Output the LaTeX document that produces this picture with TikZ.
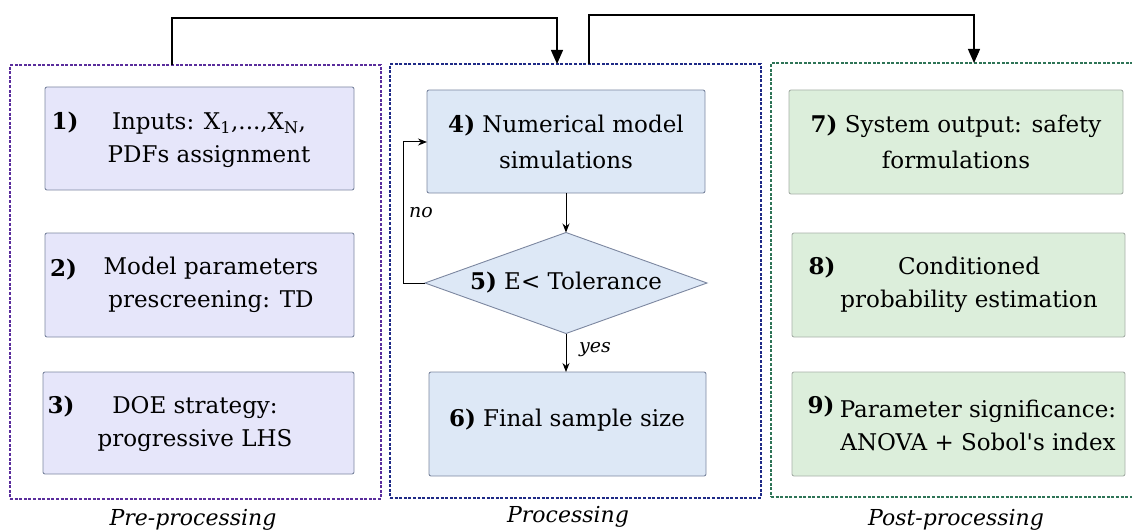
\documentclass[tikz,border=0pt]{standalone}
\usepackage{fontspec}
\setmainfont{DejaVu Serif}
\usetikzlibrary{shapes.geometric,arrows.meta,calc}

\definecolor{preline}{HTML}{5A2D9C}
\definecolor{procline}{HTML}{1E2A86}
\definecolor{postline}{HTML}{2E7457}
\definecolor{prefill}{HTML}{E6E6FA}
\definecolor{procfill}{HTML}{DDE8F6}
\definecolor{postfill}{HTML}{DCEEDB}
\definecolor{boxedge}{HTML}{7C87A0}
\definecolor{greenedge}{HTML}{A7B0A8}

\begin{document}
\begin{tikzpicture}[x=1pt,y=-1pt,
  every node/.style={inner sep=0pt,outer sep=0pt},
  txt/.style={font=\fontsize{23}{33}\selectfont,align=center},
  num/.style={font=\fontsize{23}{33}\selectfont\bfseries},
  tag/.style={font=\fontsize{22}{25}\selectfont\itshape},
  small/.style={font=\fontsize{19}{22}\selectfont\itshape},
  stage/.style={draw,line width=1.5pt,dash pattern=on 3pt off 1.6pt,rectangle},
  stepbox/.style={draw=boxedge,line width=0.9pt,rounded corners=2pt,rectangle},
  bigarrow/.style={draw,line width=1.3pt,-{Triangle[length=14pt,width=12pt]}},
  flow/.style={draw,line width=1pt,-{Stealth[length=9pt,width=7pt]}},
]
\useasboundingbox (0,0) rectangle (1132,532);
\clip (0,0) rectangle (1132,532);

% stage frames
\node[stage,draw=preline,minimum width=371pt,minimum height=434pt] (pre) at (195.5,282) {};
\node[stage,draw=procline,minimum width=371pt,minimum height=434pt] (proc) at (575.5,281) {};
\node[stage,draw=postline,minimum width=369pt,minimum height=434pt] (post) at (955.5,280) {};

\node[tag] (lpre) at (193,520) {Pre-processing};
\node[tag] (lproc) at (568,517) {Processing};
\node[tag] (lpost) at (956,520) {Post-processing};

% pre-processing steps
\node[stepbox,fill=prefill,minimum width=309pt,minimum height=103pt] (b1) at (199.5,138.5) {};
\node[num] (n1) at (65,123) {1)};
\node[txt] (t1) at (209,140) {Inputs: X\textsubscript{1},...,X\textsubscript{N},\\PDFs assignment};

\node[stepbox,fill=prefill,minimum width=309pt,minimum height=104pt] (b2) at (199.5,285) {};
\node[num] (n2) at (63.5,270) {2)};
\node[txt] (t2) at (211,285) {Model parameters\\prescreening: TD};

\node[stepbox,fill=prefill,minimum width=311pt,minimum height=102pt] (b3) at (198.5,423) {};
\node[num] (n3) at (61,407) {3)};
\node[txt] (t3) at (195,424) {DOE strategy:\\progressive LHS};

% processing steps
\node[stepbox,fill=procfill,minimum width=278pt,minimum height=103pt] (b4) at (566,141.5)
  {\parbox{270pt}{\centering\fontsize{23}{36}\selectfont\textbf{4)} Numerical model\\simulations}};
\node[diamond,draw=boxedge,line width=0.9pt,fill=procfill,minimum width=282pt,minimum height=101pt,aspect=2.8] (d5) at (566,283) {};
\node[txt] (t5) at (566,283) {\textbf{5)} E< Tolerance};
\node[stepbox,fill=procfill,minimum width=277pt,minimum height=104pt] (b6) at (567.5,424) {};
\node[txt] (t6) at (567,420) {\textbf{6)} Final sample size};

% post-processing steps
\node[stepbox,draw=greenedge,fill=postfill,minimum width=334pt,minimum height=104pt] (b7) at (956,142)
  {\parbox{326pt}{\centering\fontsize{23}{36}\selectfont\textbf{7)} System output: safety\\formulations}};
\node[stepbox,draw=greenedge,fill=postfill,minimum width=333pt,minimum height=104pt] (b8) at (958.5,285) {};
\node[num] (n8) at (822,268) {8)};
\node[txt] (t8) at (969,285) {Conditioned\\probability estimation};
\node[stepbox,draw=greenedge,fill=postfill,minimum width=333pt,minimum height=104pt] (b9) at (958.5,424) {};
\node[num] (n9) at (821,407) {9)};
\node[txt] (t9) at (978,425) {Parameter significance:\\ANOVA + Sobol\textquotesingle s index};

% links between stages
\coordinate (s1) at (172,65);
\coordinate (e1) at (557,64);
\draw[bigarrow] (s1 |- pre.north) -- (172,18) -- (557,18) -- (e1 |- proc.north);
\coordinate (s2) at (589,64);
\coordinate (e2) at (974,63);
\draw[bigarrow] (s2 |- proc.north) -- (589,15) -- (974,15) -- (e2 |- post.north);

% iteration loop
\draw[flow] (b4.south -| d5.north) -- (d5.north);
\draw[flow] (d5.south) -- (d5.south |- b6.north);
\draw[flow] (d5.west) -- (403,283) -- (403,142) -- (b4.west |- 0,142);
\node[small] (lno) at (421,213) {no};
\node[small] (lyes) at (595,350) {yes};
\end{tikzpicture}
\end{document}
